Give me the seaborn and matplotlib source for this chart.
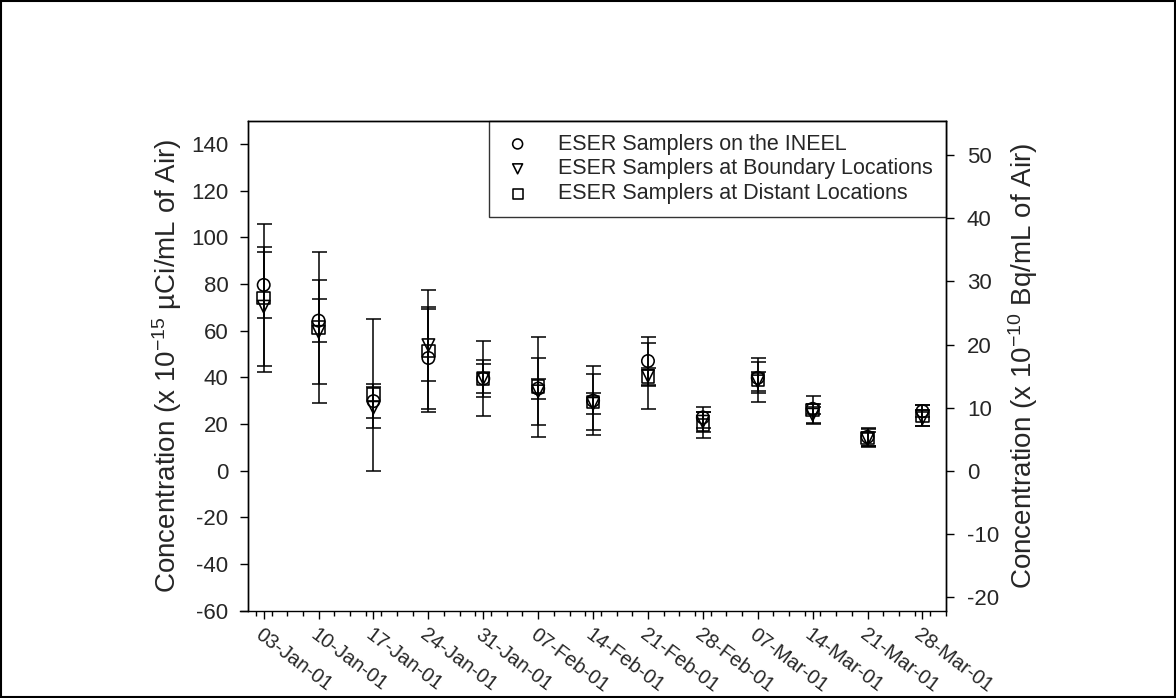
import pandas as pd
import numpy as np
import matplotlib
matplotlib.use("Agg")
import matplotlib.pyplot as plt
import matplotlib.dates as mdates
from matplotlib.patches import Rectangle
import seaborn as sns

# weekly sample dates
dates = pd.to_datetime([
    "2001-01-03", "2001-01-10", "2001-01-17", "2001-01-24", "2001-01-31",
    "2001-02-07", "2001-02-14", "2001-02-21", "2001-02-28", "2001-03-07",
    "2001-03-14", "2001-03-21", "2001-03-28",
])

# concentrations, x 1e-15 uCi/mL
ineel = [79.6, 64.3, 29.8, 48.3, 39.5, 35.2, 30.0, 47.0, 22.8, 39.8, 26.5, 14.5, 25.5]
ineel_err = [14.2, 9.3, 7.2, 22.0, 8.0, 4.3, 14.7, 10.5, 4.6, 6.6, 2.0, 4.0, 2.5]
boundary = [70.3, 59.5, 27.0, 53.8, 39.6, 34.0, 28.7, 40.6, 21.0, 38.3, 24.0, 13.5, 22.5]
boundary_err = [25.6, 22.3, 8.8, 15.5, 6.3, 14.4, 4.5, 14.3, 4.3, 4.0, 3.5, 3.0, 3.5]
distant = [74.0, 61.3, 32.6, 51.2, 39.4, 36.0, 29.5, 40.3, 19.5, 39.0, 26.0, 14.0, 23.5]
distant_err = [31.8, 32.3, 32.6, 26.1, 16.0, 21.4, 12.0, 3.5, 5.6, 9.4, 5.9, 4.0, 4.5]

labels = ["ESER Samplers on the INEEL",
          "ESER Samplers at Boundary Locations",
          "ESER Samplers at Distant Locations"]
markers = ["o", "v", "s"]

UCI_TO_BQ = 0.37  # 1e-15 uCi -> 1e-10 Bq

sns.set_theme(style="ticks")
plt.rcParams["font.family"] = ["Liberation Sans", "DejaVu Sans"]
plt.rcParams["mathtext.default"] = "regular"
plt.rcParams["axes.unicode_minus"] = False

fig = plt.figure(figsize=(11.76, 6.98), dpi=100)
ax = fig.add_axes([0.2109, 0.1251, 0.5935, 0.702])

series = [(ineel, ineel_err), (boundary, boundary_err), (distant, distant_err)]
for (vals, errs), lab, mk in zip(series, labels, markers):
    df = pd.DataFrame({"date": dates, "value": vals, "err": errs})
    ax.errorbar(df["date"], df["value"], yerr=df["err"], fmt="none",
                ecolor="black", elinewidth=1.1, capsize=5.4, capthick=1.1, zorder=2)
    sns.scatterplot(data=df, x="date", y="value", marker=mk, s=80,
                    facecolor="none", edgecolor="black", linewidth=1.15,
                    label=lab, ax=ax, zorder=3)

ax.set_xlim(pd.Timestamp("2001-01-01"), pd.Timestamp("2001-03-31"))
ax.set_ylim(-60, 150)
ax.set_yticks(np.arange(-60, 141, 20))
ax.xaxis.set_major_locator(plt.FixedLocator(mdates.date2num(dates)))
ax.xaxis.set_minor_locator(plt.FixedLocator(
    mdates.date2num(pd.date_range("2001-01-02", "2001-03-31", freq="2D"))))
ax.xaxis.set_major_formatter(mdates.DateFormatter("%d-%b-%y"))
ax.set_xlabel("")
ax.set_ylabel("Concentration (x 10$^{-15}$ \u00b5Ci/mL of Air)", fontsize=20, labelpad=5)

for lbl in ax.get_xticklabels():
    lbl.set_rotation(-37)
    lbl.set_ha("left")
    lbl.set_va("top")
    lbl.set_rotation_mode("anchor")
    lbl.set_fontsize(14.5)

ax.tick_params(axis="y", direction="out", length=6, width=1, labelsize=16,
               color="black", pad=8)
ax.tick_params(axis="x", which="major", direction="out", length=6, width=1,
               color="black", pad=4)
ax.tick_params(axis="x", which="minor", direction="out", length=3.5, width=1, color="black")

for sp in ax.spines.values():
    sp.set_color("black")
    sp.set_linewidth(1)
# bottom axis line runs a little past the left spine
ax.spines["bottom"].set_bounds(mdates.date2num(pd.Timestamp("2000-12-31")),
                               mdates.date2num(pd.Timestamp("2001-03-31")))

ax2 = ax.twinx()
ax2.set_ylim(-60 * UCI_TO_BQ, 150 * UCI_TO_BQ)
ax2.set_yticks(np.arange(-20, 51, 10))
ax2.tick_params(axis="y", direction="out", length=6, width=1, labelsize=16,
                color="black", pad=9)
ax2.set_ylabel("Concentration (x 10$^{-10}$ Bq/mL of Air)", fontsize=20, labelpad=5)
for sp in ax2.spines.values():
    sp.set_color("black")
    sp.set_linewidth(1)
ax2.spines["bottom"].set_visible(False)

leg = ax.legend(loc="upper right", borderaxespad=0, frameon=True, fancybox=False,
                fontsize=15.5, markerscale=0.8, handletextpad=1.14, labelspacing=0.18,
                borderpad=0.6, handlelength=1.5)
leg.get_frame().set_edgecolor("black")
leg.get_frame().set_linewidth(1)
leg.set_zorder(5)

fig.patches.append(Rectangle((0.001, 0.001), 0.998, 0.997, transform=fig.transFigure,
                             fill=False, edgecolor="black", linewidth=1.5))

fig.savefig("out.png", dpi=100)
